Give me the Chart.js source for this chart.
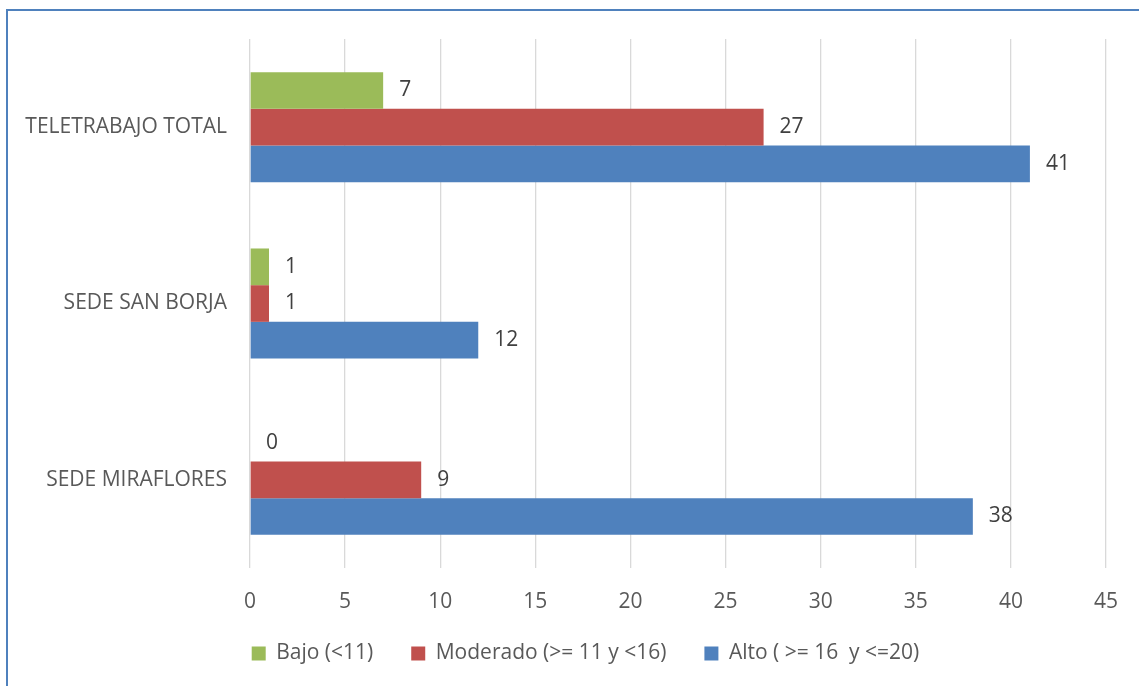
<!DOCTYPE html>
<html>
<head>
<meta charset="utf-8">
<script src="https://cdn.jsdelivr.net/npm/chart.js@4"></script>
<style>
    html, body { margin: 0; padding: 0; background: #fff; }
    #marco {
        position: absolute; left: 6px; top: 9px; width: 1200px; height: 800px;
        border-left: 2px solid #4f81bd; border-top: 2px solid #4f81bd;
        pointer-events: none;
    }
    #grafico { position: absolute; left: 0; top: 0; }
</style>
</head>
<body>
<canvas id="grafico" width="1139" height="686"></canvas>
<div id="marco"></div>
<script>
// Niveles por sede
const sedes = ['TELETRABAJO TOTAL', 'SEDE SAN BORJA', 'SEDE MIRAFLORES'];
const bajo = [7, 1, 0];
const moderado = [27, 1, 9];
const alto = [41, 12, 38];
const ticksX = [0, 5, 10, 15, 20, 25, 30, 35, 40, 45];

const fuente = "'Open Sans', 'Liberation Sans', sans-serif";
const tamLetra = 21;

// Etiqueta con el valor al final de cada barra
const etiquetasValor = {
    id: 'etiquetasValor',
    afterDatasetsDraw(chart) {
        const ctx = chart.ctx;
        ctx.save();
        ctx.font = tamLetra + 'px ' + fuente;
        ctx.fillStyle = '#404040';
        ctx.textAlign = 'left';
        ctx.textBaseline = 'middle';
        chart.data.datasets.forEach((ds, i) => {
            const meta = chart.getDatasetMeta(i);
            meta.data.forEach((bar, j) => {
                ctx.fillText(String(ds.data[j]), bar.x + 16, bar.y);
            });
        });
        ctx.restore();
    }
};

// Leyenda: altura fija en el layout (el padding grande es para separar los items),
// luego se recoloca debajo de los ticks
const ajustarLeyenda = {
    id: 'ajustarLeyenda',
    afterInit(chart) {
        const leyenda = chart.legend;
        const fitOriginal = leyenda.fit.bind(leyenda);
        leyenda.fit = function () {
            fitOriginal();
            this.height = 45;
        };
    },
    afterLayout(chart) {
        const leyenda = chart.legend;
        leyenda.left += 32;
        leyenda.right += 32;
        leyenda.top = chart.chartArea.bottom + 37;
        leyenda.height = 75;
        leyenda.bottom = leyenda.top + leyenda.height;
    }
};

new Chart(document.getElementById('grafico').getContext('2d'), {
    type: 'bar',
    data: {
        labels: sedes,
        datasets: [
            { label: 'Bajo (<11)', data: bajo, backgroundColor: '#9bbb59' },
            { label: 'Moderado (>= 11 y <16)', data: moderado, backgroundColor: '#c0504d' },
            { label: 'Alto ( >= 16  y <=20)', data: alto, backgroundColor: '#4f81bd' }
        ]
    },
    options: {
        indexAxis: 'y',
        responsive: false,
        animation: false,
        layout: { padding: { top: 39, right: 32, left: 0, bottom: 13 } },
        datasets: { bar: { categoryPercentage: 0.624, barPercentage: 1 } },
        scales: {
            x: {
                min: 0, max: 45,
                afterBuildTicks: (axis) => { axis.ticks = ticksX.map(v => ({ value: v })); },
                afterFit: (axis) => { axis.height = 60; },
                grid: { color: '#d9d9d9', lineWidth: 1.3, drawTicks: false },
                border: { display: false },
                ticks: { padding: 21, color: '#595959', font: { family: fuente, size: tamLetra } }
            },
            y: {
                afterFit: (axis) => { axis.width = 250; },
                grid: { display: false, drawTicks: false },
                border: { display: false },
                ticks: { padding: 23, color: '#595959', font: { family: fuente, size: tamLetra } }
            }
        },
        plugins: {
            tooltip: { enabled: false },
            legend: {
                position: 'bottom',
                labels: {
                    boxWidth: 14, boxHeight: 14, padding: 38,
                    color: '#595959',
                    font: { family: fuente, size: tamLetra }
                }
            }
        }
    },
    plugins: [etiquetasValor, ajustarLeyenda]
});
</script>
</body>
</html>
